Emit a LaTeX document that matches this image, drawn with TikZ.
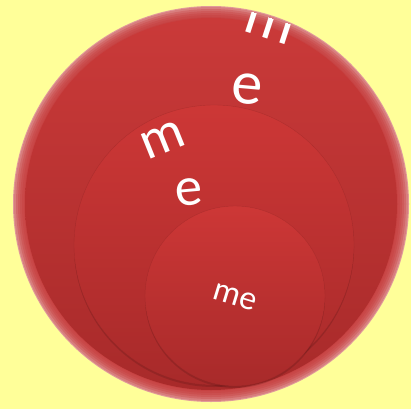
\documentclass[tikz,border=0pt]{standalone}
\usepackage{fontspec}
\setmainfont{Carlito}
\usepackage{tikz}
\usetikzlibrary{positioning}
\definecolor{paleyellow}{RGB}{255,255,153}
\definecolor{redtop}{RGB}{202,58,57}
\definecolor{redbot}{RGB}{168,42,42}
\definecolor{redmid}{RGB}{196,54,54}

\begin{document}
\begin{tikzpicture}[x=1pt,y=-1pt,
  word/.style={text=white,inner sep=0pt,font=\fontsize{#1}{#1}\selectfont},
  disc/.style={top color=redtop!95!red, bottom color=redbot,
    draw=redbot!80!black, draw opacity=0.35}]
% Background
\fill[paleyellow] (0,0) rectangle (411,409);
\useasboundingbox (0,0) rectangle (411,409);

% Soft pink rim of the big disc
\fill[redmid!50!white] (211,204) circle (198);
\foreach \r in {197,195,...,187}
  \fill[redmid, opacity=0.28] (211,204) circle (\r);

% Discs
\shade[top color=redtop, bottom color=redbot] (211,204) circle (186);
\fill[black, opacity=0.12] (214,247) circle (140);
\shade[disc] (214,245) circle (140);
\fill[black, opacity=0.12] (235,298) circle (90);
\shade[disc] (235,296) circle (90);

% Words
\begin{scope}[shift={(270,24)}, rotate=-18]
\clip (-40,-6) rectangle (40,20);
\node[word=62, transform shape] (outerm) at (0,0) {m};
\end{scope}
\node[word=62, rotate=-5] (outere) at (247,89) {e};
\node[word=55, rotate=22] (midm) at (163,140) {m};
\node[word=55, rotate=5] (mide) at (189,192) {e};
\node[word=34, rotate=-17] (innerme) at (235,297) {me};
\end{tikzpicture}
\end{document}
